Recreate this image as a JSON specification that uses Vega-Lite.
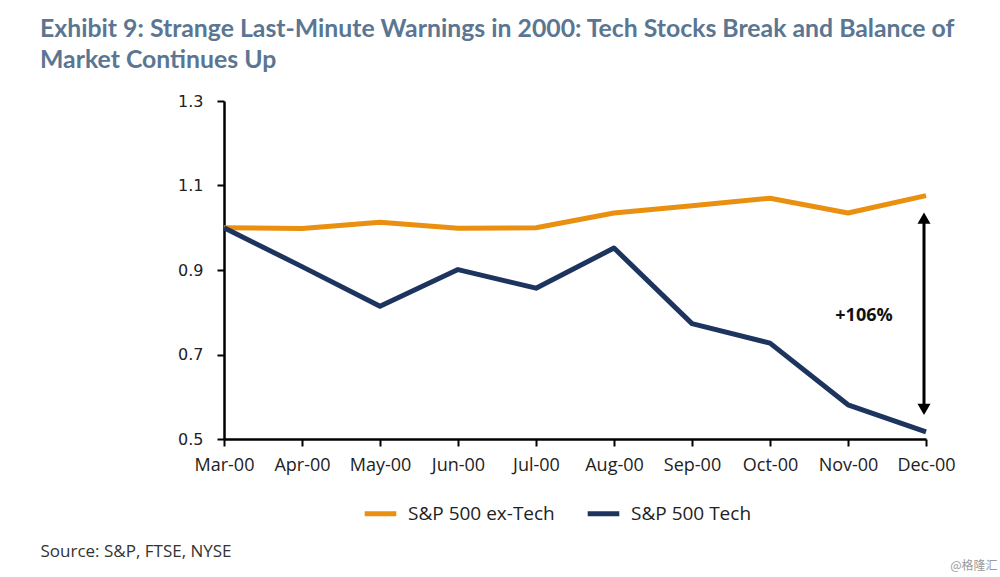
{
  "$schema": "https://vega.github.io/schema/vega-lite/v6.json",
  "width": 702,
  "height": 338,
  "autosize": {"type": "none"},
  "padding": {"left": 224, "top": 101, "right": 74, "bottom": 138},
  "background": "white",
  "title": {
    "text": ["Exhibit 9: Strange Last-Minute Warnings in 2000: Tech Stocks Break and Balance of", "Market Continues Up"],
    "anchor": "start",
    "frame": "group",
    "dx": -184,
    "font": "Lato",
    "fontSize": 24.8,
    "fontWeight": "bold",
    "color": "#5A7692",
    "lineHeight": 31,
    "offset": 20
  },
  "config": {
    "view": {"stroke": null},
    "axis": {"grid": false}
  },
  "datasets": {
    "arrow": [{"month": "Dec-00", "lo": 0.565, "hi": 1.025}],
    "heads": [{"month": "Dec-00", "end": "top", "v": 1.023}, {"month": "Dec-00", "end": "bottom", "v": 0.57}],
    "note": [{"month": "Nov-00", "v": 0.792, "label": "+106%"}]
  },
  "data": {
    "values": [
      {"month": "Mar-00", "series": "S&P 500 ex-Tech", "value": 1.0},
      {"month": "Apr-00", "series": "S&P 500 ex-Tech", "value": 0.998},
      {"month": "May-00", "series": "S&P 500 ex-Tech", "value": 1.013},
      {"month": "Jun-00", "series": "S&P 500 ex-Tech", "value": 0.999},
      {"month": "Jul-00", "series": "S&P 500 ex-Tech", "value": 1.0},
      {"month": "Aug-00", "series": "S&P 500 ex-Tech", "value": 1.035},
      {"month": "Sep-00", "series": "S&P 500 ex-Tech", "value": 1.052},
      {"month": "Oct-00", "series": "S&P 500 ex-Tech", "value": 1.07},
      {"month": "Nov-00", "series": "S&P 500 ex-Tech", "value": 1.035},
      {"month": "Dec-00", "series": "S&P 500 ex-Tech", "value": 1.076},
      {"month": "Mar-00", "series": "S&P 500 Tech", "value": 1.0},
      {"month": "Apr-00", "series": "S&P 500 Tech", "value": 0.908},
      {"month": "May-00", "series": "S&P 500 Tech", "value": 0.814},
      {"month": "Jun-00", "series": "S&P 500 Tech", "value": 0.901},
      {"month": "Jul-00", "series": "S&P 500 Tech", "value": 0.857},
      {"month": "Aug-00", "series": "S&P 500 Tech", "value": 0.952},
      {"month": "Sep-00", "series": "S&P 500 Tech", "value": 0.773},
      {"month": "Oct-00", "series": "S&P 500 Tech", "value": 0.727},
      {"month": "Nov-00", "series": "S&P 500 Tech", "value": 0.581},
      {"month": "Dec-00", "series": "S&P 500 Tech", "value": 0.517}
    ]
  },
  "layer": [
    {
      "mark": {"type": "line", "strokeWidth": 5, "strokeJoin": "round"},
      "encoding": {
        "x": {
          "field": "month",
          "type": "ordinal",
          "sort": null,
          "scale": {"type": "point", "padding": 0, "domain": ["Mar-00", "Apr-00", "May-00", "Jun-00", "Jul-00", "Aug-00", "Sep-00", "Oct-00", "Nov-00", "Dec-00"]},
          "axis": {
            "title": "Source: S&P, FTSE, NYSE",
            "titleFont": "Open Sans",
            "titleFontSize": 17,
            "titleFontWeight": "normal",
            "titleColor": "#333333",
            "titleAnchor": "start",
            "titleAlign": "left",
            "titleBaseline": "alphabetic",
            "titleX": -184,
            "titleY": 117,
            "labelAngle": 0,
            "labelFont": "Open Sans",
            "labelFontSize": 18,
            "labelColor": "#222222",
            "labelPadding": 10,
            "domainColor": "#000000",
            "domainWidth": 2.5,
            "tickColor": "#000000",
            "tickWidth": 2,
            "tickSize": 7
          }
        },
        "y": {
          "field": "value",
          "type": "quantitative",
          "scale": {"domain": [0.5, 1.3], "nice": false, "zero": false},
          "axis": {
            "values": [0.5, 0.7, 0.9, 1.1, 1.3],
            "format": ".1f",
            "title": "@格隆汇",
            "titleAngle": 0,
            "titleFont": "Noto Sans CJK SC",
            "titleFontSize": 12,
            "titleFontWeight": "normal",
            "titleColor": "#9a9a9a",
            "titleAlign": "right",
            "titleBaseline": "alphabetic",
            "titleX": 773,
            "titleY": 468,
            "labelFont": "DejaVu Sans",
            "labelFontSize": 16,
            "labelColor": "#222222",
            "labelPadding": 14,
            "domainColor": "#000000",
            "domainWidth": 2.5,
            "tickColor": "#000000",
            "tickWidth": 2,
            "tickSize": 7
          }
        },
        "color": {
          "field": "series",
          "type": "nominal",
          "scale": {"domain": ["S&P 500 ex-Tech", "S&P 500 Tech"], "range": ["#EA9010", "#1D355E"]},
          "legend": {
            "title": null,
            "orient": "none",
            "direction": "horizontal",
            "legendX": 138,
            "legendY": 394,
            "symbolType": "stroke",
            "symbolSize": 1000,
            "symbolStrokeWidth": 5,
            "labelFont": "Open Sans",
            "labelFontSize": 19,
            "labelColor": "#222222",
            "labelOffset": 9,
            "columnPadding": 22
          }
        }
      }
    },
    {
      "data": {"name": "arrow"},
      "mark": {"type": "rule", "strokeWidth": 3, "color": "#000000", "xOffset": -2},
      "encoding": {
        "x": {"field": "month", "type": "ordinal", "sort": null},
        "y": {"field": "lo", "type": "quantitative"},
        "y2": {"field": "hi"}
      }
    },
    {
      "data": {"name": "heads"},
      "mark": {"type": "point", "filled": true, "color": "#000000", "size": 170, "opacity": 1, "xOffset": -2},
      "encoding": {
        "x": {"field": "month", "type": "ordinal", "sort": null},
        "y": {"field": "v", "type": "quantitative"},
        "shape": {"field": "end", "type": "nominal", "scale": {"domain": ["top", "bottom"], "range": ["triangle-up", "triangle-down"]}, "legend": null}
      }
    },
    {
      "data": {"name": "note"},
      "mark": {"type": "text", "font": "Open Sans", "fontSize": 18, "fontWeight": "bold", "color": "#111111", "dx": 16, "baseline": "middle", "align": "center"},
      "encoding": {
        "x": {"field": "month", "type": "ordinal", "sort": null},
        "y": {"field": "v", "type": "quantitative"},
        "text": {"field": "label"}
      }
    }
  ]
}
